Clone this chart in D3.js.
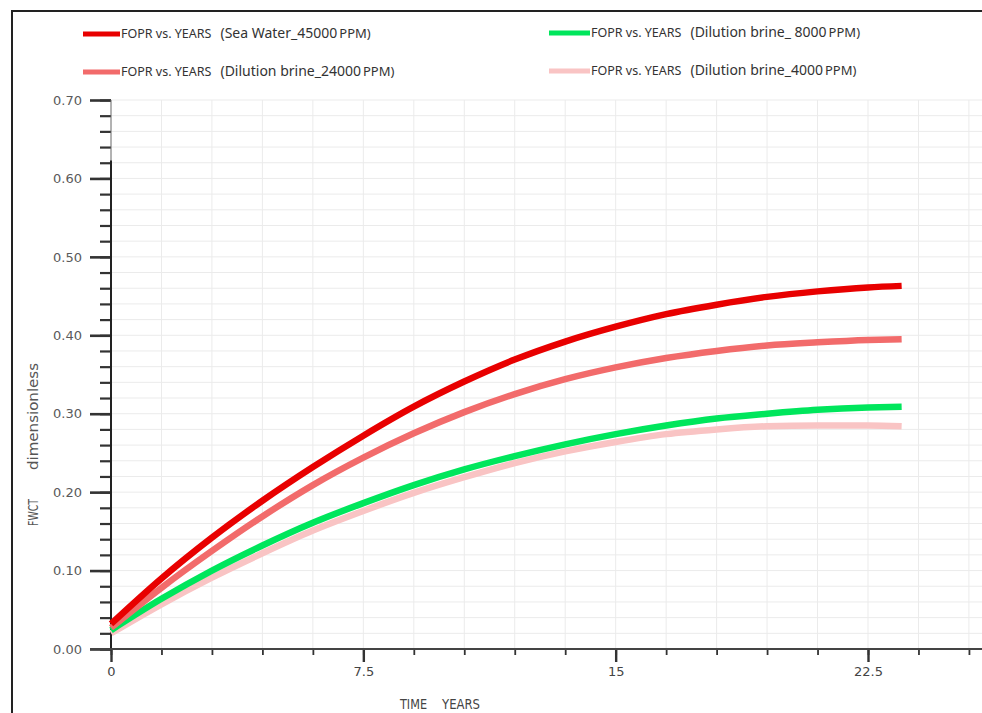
<!DOCTYPE html>
<html>
<head>
<meta charset="utf-8">
<script src="https://d3js.org/d3.v7.min.js"></script>
<style>
  html, body { margin: 0; background: #fff; overflow: hidden; }
  svg { display: block; }
  .tick text { font-family: "DejaVu Sans", sans-serif; font-size: 13px; fill: #5a5a5a; }
  .legend text { font-family: "Noto Sans", sans-serif; fill: #333; }
  .axis-title { font-family: "DejaVu Sans", sans-serif; font-size: 14px; fill: #444; }
</style>
</head>
<body>
<div id="chart"></div>
<script>
// data
var years = [0, 1.5, 3, 4.5, 6, 7.5, 9, 10.5, 12, 13.5, 15, 16.5, 18, 19.5, 21, 22.5, 23.5];
var seaWater45000 = [0.032, 0.090, 0.142, 0.189, 0.232, 0.272, 0.309, 0.341, 0.369, 0.392, 0.411, 0.427, 0.439, 0.449, 0.456, 0.461, 0.463];
var brine24000    = [0.027, 0.078, 0.125, 0.169, 0.209, 0.244, 0.275, 0.302, 0.325, 0.344, 0.359, 0.371, 0.380, 0.387, 0.391, 0.394, 0.395];
var brine8000     = [0.024, 0.064, 0.100, 0.132, 0.161, 0.186, 0.209, 0.229, 0.246, 0.261, 0.274, 0.285, 0.294, 0.300, 0.305, 0.308, 0.309];
var brine4000     = [0.020, 0.057, 0.091, 0.122, 0.151, 0.176, 0.199, 0.219, 0.237, 0.252, 0.264, 0.274, 0.280, 0.284, 0.285, 0.285, 0.284];

var seriesNames = ["(Sea Water_45000", "(Dilution brine_24000", "(Dilution brine_ 8000", "(Dilution brine_4000"];
var seriesColors = ["#e80000", "#f26b6b", "#00e65c", "#f9c4c4"];
var seriesValues = [seaWater45000, brine24000, brine8000, brine4000];

var xMajorTicks = [0, 7.5, 15, 22.5];
var xTickLabels = ["0", "7.5", "15", "22.5"];
var yMajorTicks = [0, 0.1, 0.2, 0.3, 0.4, 0.5, 0.6, 0.7];

var W = 982, H = 713;
var svg = d3.select("#chart").append("svg").attr("width", W).attr("height", H);

// outer frame (right and bottom edges fall outside the picture)
svg.append("rect")
   .attr("x", 12).attr("y", 11).attr("width", 1000).attr("height", 800)
   .attr("fill", "none").attr("stroke", "#222").attr("stroke-width", 2);

var x = d3.scaleLinear().domain([0, 22.5]).range([111, 868]);
var y = d3.scaleLinear().domain([0, 0.7]).range([649, 100]);

var xMinor = d3.range(0, 26.5, 1.5);
var yMinor = d3.range(0, 0.7001, 0.02);

// grid
svg.append("g").selectAll("line").data(xMinor.slice(1)).enter().append("line")
   .attr("x1", function(d) { return x(d); }).attr("x2", function(d) { return x(d); })
   .attr("y1", y(0.7)).attr("y2", y(0))
   .attr("stroke", "#ebebeb").attr("stroke-width", 1);
svg.append("g").selectAll("line").data(yMinor.slice(1)).enter().append("line")
   .attr("x1", x(0)).attr("x2", W)
   .attr("y1", function(d) { return y(d); }).attr("y2", function(d) { return y(d); })
   .attr("stroke", "#ebebeb").attr("stroke-width", 1);

// y axis
var yMinorAxis = svg.append("g").attr("transform", "translate(" + x(0) + ",0)")
   .call(d3.axisLeft(y).tickValues(yMinor).tickSize(11).tickFormat(""));
var yAxis = svg.append("g").attr("transform", "translate(" + x(0) + ",0)")
   .call(d3.axisLeft(y).tickValues(yMajorTicks).tickSize(21).tickPadding(8).tickFormat(d3.format(".2f")));
[yMinorAxis, yAxis].forEach(function(g) {
  g.select(".domain").remove();
  g.selectAll("line").attr("stroke", "#333").attr("stroke-width", 2.2);
});
yAxis.selectAll("line").attr("stroke-width", 2.6);
// axis line: thin at the top, heavier lower down
svg.append("line").attr("x1", x(0)).attr("x2", x(0)).attr("y1", y(0.7)).attr("y2", y(0))
   .attr("stroke", "#666").attr("stroke-width", 1);
svg.append("line").attr("x1", x(0)).attr("x2", x(0)).attr("y1", y(0.623)).attr("y2", y(0))
   .attr("stroke", "#222").attr("stroke-width", 2);

// x axis
var xMinorAxis = svg.append("g").attr("transform", "translate(0," + y(0) + ")")
   .call(d3.axisBottom(x).tickValues(xMinor).tickSize(6).tickFormat(""));
var xAxis = svg.append("g").attr("transform", "translate(0," + y(0) + ")")
   .call(d3.axisBottom(x).tickValues(xMajorTicks).tickSize(13).tickPadding(5)
         .tickFormat(function(d, i) { return xTickLabels[i]; }));
[xMinorAxis, xAxis].forEach(function(g) {
  g.select(".domain").remove();
  g.selectAll("line").attr("stroke", "#333").attr("stroke-width", 1.8);
});
xAxis.selectAll("line").attr("stroke-width", 2.4);
xAxis.selectAll("text").style("fill", "#444");
svg.append("line").attr("x1", 90).attr("x2", W).attr("y1", y(0)).attr("y2", y(0))
   .attr("stroke", "#444").attr("stroke-width", 2);

// axis titles (narrow stroke font in the original, squeezed with textLength)
svg.append("text").attr("class", "axis-title")
   .attr("x", 400).attr("y", 709).attr("textLength", 27).attr("lengthAdjust", "spacingAndGlyphs")
   .text("TIME");
svg.append("text").attr("class", "axis-title")
   .attr("x", 442).attr("y", 709).attr("textLength", 38).attr("lengthAdjust", "spacingAndGlyphs")
   .text("YEARS");
svg.append("text").attr("class", "axis-title").style("fill", "#555")
   .attr("transform", "translate(38,526)rotate(-90)")
   .attr("textLength", 27).attr("lengthAdjust", "spacingAndGlyphs")
   .text("FWCT");
svg.append("text").attr("class", "axis-title").style("fill", "#555")
   .attr("transform", "translate(38,470)rotate(-90)")
   .attr("textLength", 107).attr("lengthAdjust", "spacingAndGlyphs")
   .text("dimensionless");

// curves
var line = d3.line()
   .x(function(d, i) { return x(years[i]); })
   .y(function(d) { return y(d); })
   .curve(d3.curveMonotoneX);
svg.append("g").selectAll("path").data(seriesValues.slice().reverse()).enter().append("path")
   .attr("d", line)
   .attr("fill", "none")
   .attr("stroke", function(d, i) { return seriesColors[seriesColors.length - 1 - i]; })
   .attr("stroke-width", 6.5);

// legend
var legendPos = [[83, 34], [83, 72], [549, 33], [549, 71]];
var legend = svg.append("g").attr("class", "legend");
seriesNames.forEach(function(name, i) {
  var p = legendPos[i];
  var lw = i < 2 ? 37 : 41;
  legend.append("line")
     .attr("x1", p[0]).attr("x2", p[0] + lw).attr("y1", p[1]).attr("y2", p[1])
     .attr("stroke", seriesColors[i]).attr("stroke-width", 5);
  var t = legend.append("text").attr("x", p[0] + lw + 1).attr("y", p[1] + 4);
  t.append("tspan").style("font-size", "12.5px").text("FOPR vs. YEARS");
  t.append("tspan").attr("dx", 9).style("font-size", "14px").text(name);
  t.append("tspan").attr("dx", 2).style("font-size", "13px").text("PPM)");
});
</script>
</body>
</html>
